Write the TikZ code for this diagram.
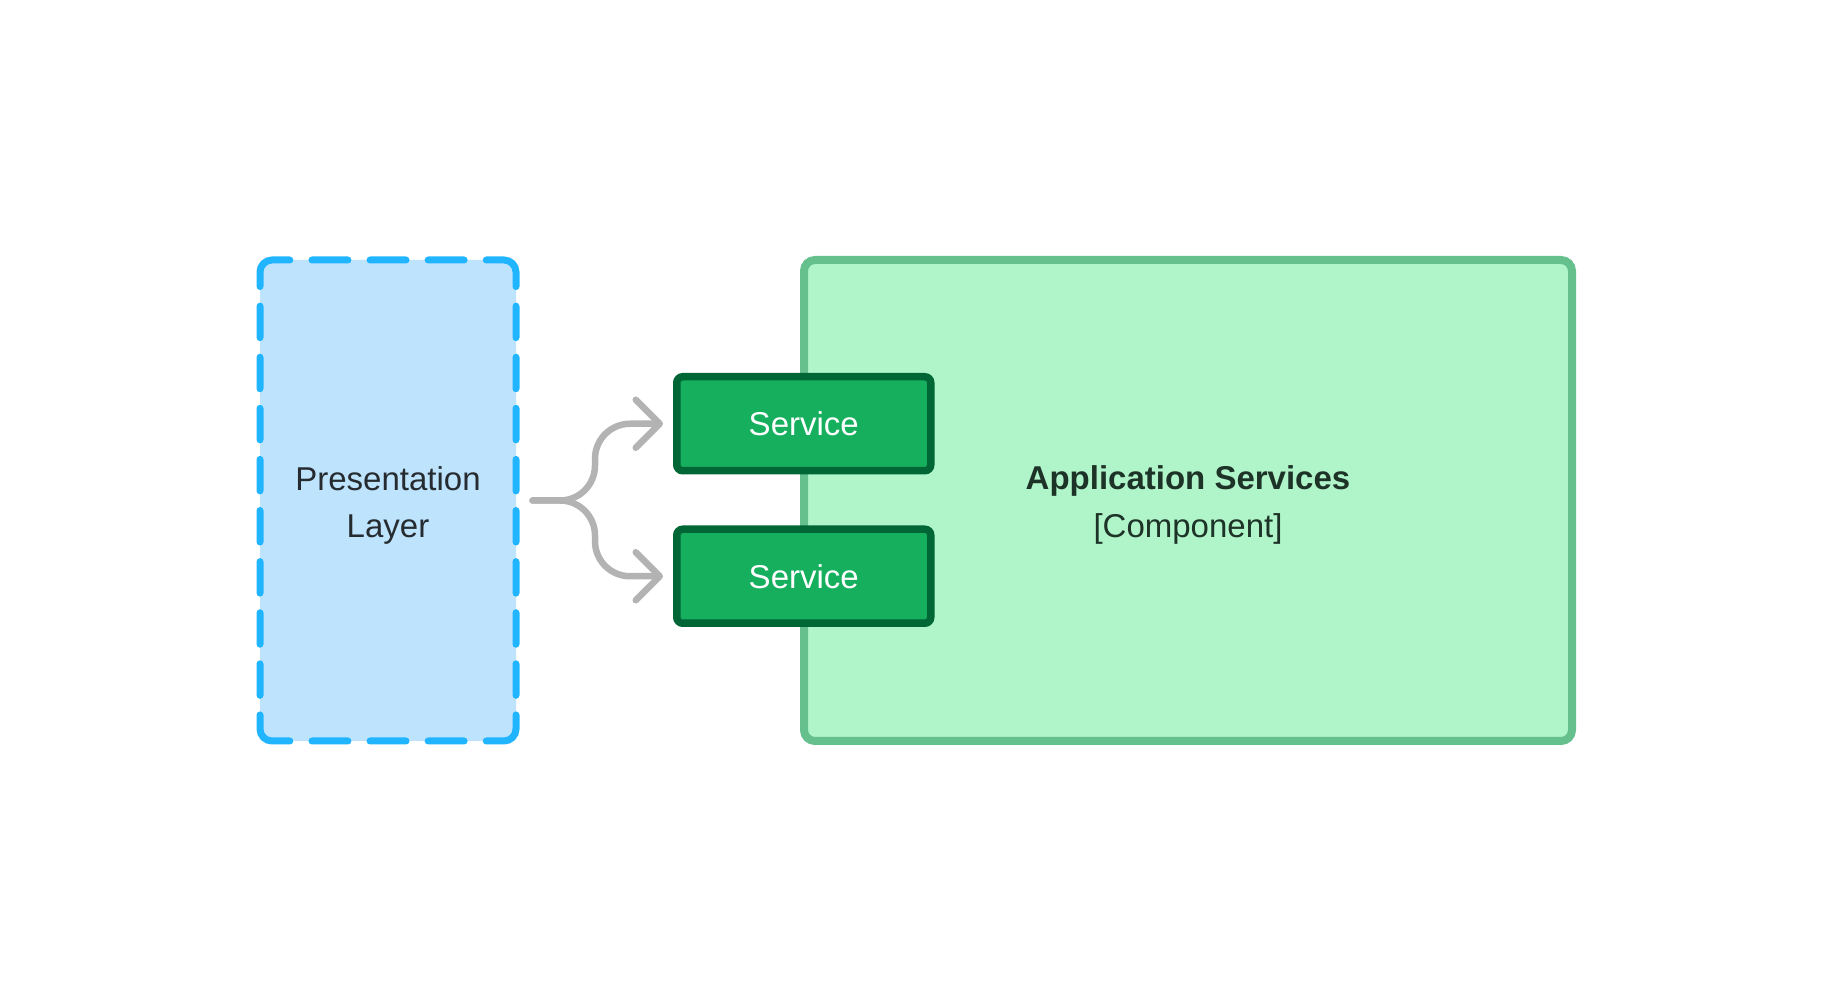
\documentclass[tikz,border=0pt]{standalone}
\usepackage{fontspec}
\setmainfont{Liberation Sans}
\usetikzlibrary{arrows.meta,positioning}

\definecolor{layerblue}{HTML}{22B5FF}
\definecolor{layerfill}{HTML}{BEE3FD}
\definecolor{compdraw}{HTML}{66C08D}
\definecolor{compfill}{HTML}{B0F5C9}
\definecolor{svcdraw}{HTML}{006636}
\definecolor{svcfill}{HTML}{16AF5D}
\definecolor{flowgray}{HTML}{B3B3B3}
\definecolor{inkgray}{HTML}{262B30}
\definecolor{inkgreen}{HTML}{1E3328}

\begin{document}
\begin{tikzpicture}[x=1pt,y=1pt,>={Straight Barb[length=24pt,width=48pt,round]},
  font=\fontsize{33}{47.5}\selectfont,
  layer node/.style={rectangle,rounded corners=12pt,fill=layerfill,outer sep=0pt,
    minimum width=256pt,minimum height=481pt,align=center,text=inkgray,text height=74.5pt,text depth=0pt},
  layer edge/.style={draw=layerblue,line width=7pt,line cap=round},
  hdash/.style={layer edge,dash pattern=on 36pt off 22.1pt,dash phase=8.8pt},
  vdash/.style={layer edge,dash pattern=on 31.5pt off 19.6pt,dash phase=7.6pt},
  comp node/.style={rectangle,rounded corners=11pt,draw=compdraw,fill=compfill,line width=8pt,
    minimum width=768pt,minimum height=481pt,align=center,text=inkgreen,text height=74pt,text depth=0pt},
  service node/.style={rectangle,rounded corners=6pt,draw=svcdraw,fill=svcfill,line width=7.5pt,
    minimum width=254pt,minimum height=94pt,text=white},
  flow/.style={->,draw=flowgray,line width=6.5pt,line cap=round,rounded corners=35pt,
    shorten <=16.5pt,shorten >=10pt}]

  \useasboundingbox (0,0) rectangle (1832,1002);

  \node[comp node] (2) at (1188,501.5) {{\bfseries Application Services}\\{[Component]}};
  \node[service node] (3) at (803.75,578.25) {Service};
  \node[service node] (4) [below=51pt of 3] {Service};
  \node[layer node] (1) at (388,501.5) {Presentation\\Layer};

  % dashed border of the layer, one dash run per side
  \draw[hdash] ([shift={(12pt,-12pt)}]1.north west) ++(135:12pt) arc[start angle=135,end angle=90,radius=12pt]
    -- ([xshift=-12pt]1.north east) arc[start angle=90,end angle=45,radius=12pt];
  \draw[hdash] ([shift={(12pt,12pt)}]1.south west) ++(225:12pt) arc[start angle=225,end angle=270,radius=12pt]
    -- ([xshift=-12pt]1.south east) arc[start angle=270,end angle=315,radius=12pt];
  \draw[vdash] ([shift={(12pt,-12pt)}]1.north west) ++(135:12pt) arc[start angle=135,end angle=180,radius=12pt]
    -- ([yshift=12pt]1.south west) arc[start angle=180,end angle=225,radius=12pt];
  \draw[vdash] ([shift={(-12pt,-12pt)}]1.north east) ++(45:12pt) arc[start angle=45,end angle=0,radius=12pt]
    -- ([yshift=12pt]1.south east) arc[start angle=0,end angle=-45,radius=12pt];

  \coordinate (fork) at (595,501.5);

  \draw[flow] (1.east) -| (fork |- 3.west) -- (3.west);
  \draw[flow] (1.east) -| (fork |- 4.west) -- (4.west);

\end{tikzpicture}
\end{document}
